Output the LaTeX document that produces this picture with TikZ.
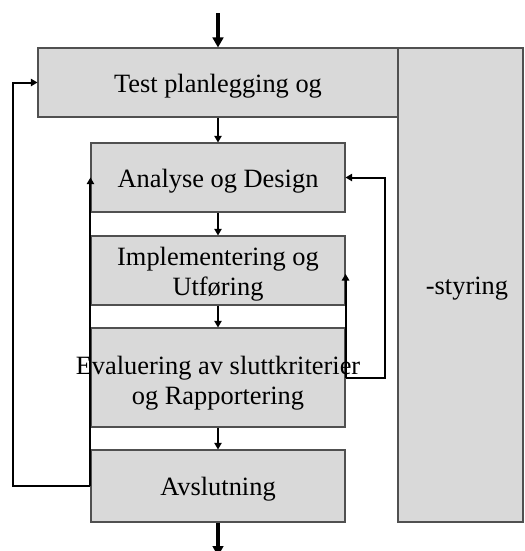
\documentclass[tikz,border=0pt]{standalone}
\usepackage{fontspec}
\setmainfont{Liberation Serif}
\usetikzlibrary{arrows.meta}
\definecolor{boxfill}{HTML}{D9D9D9}
\definecolor{boxline}{HTML}{505050}
\begin{document}
\begin{tikzpicture}[x=0.75pt,y=-0.75pt,
  box/.style={draw=boxline,fill=boxfill,line width=0.8pt,rectangle,inner sep=0pt},
  txt/.style={inner sep=0pt,font=\fontsize{19.8}{22.5}\selectfont,align=center,text=black,yshift=-2.6pt},
  bigarrow/.style={line width=2.4pt,-{Triangle[length=7.5pt,width=8pt]}},
  flow/.style={line width=1.1pt,-{Triangle[length=5pt,width=5.5pt]}},
  looparrow/.style={line width=1.5pt,-{Triangle[length=5pt,width=5.5pt]}}]
\useasboundingbox (0,0) rectangle (525,551);
% boxes
\node[box,minimum width=93.75pt,minimum height=355.5pt] (styr) at (460.5,285) {};
\node[box,minimum width=270pt,minimum height=51.75pt] (plan) at (218,82.5) {};
\node[box,minimum width=190.5pt,minimum height=51.75pt] (anal) at (218,177.5) {};
\node[box,minimum width=190.5pt,minimum height=51.75pt] (impl) at (218,270.5) {};
\node[box,minimum width=190.5pt,minimum height=74.25pt] (eval) at (218,377.5) {};
\node[box,minimum width=190.5pt,minimum height=54pt] (avsl) at (218,486) {};
% texts
\node[txt] (styrtxt) at (467,285) {-styring};
\node[txt] (plantxt) at (plan.center) {Test planlegging og};
\node[txt] (analtxt) at (anal.center) {Analyse og Design};
\node[txt] (impltxt) at (impl.center) {Implementering og\\Utføring};
\node[txt] (evaltxt) at (218,380) {Evaluering av sluttkriterier\\og Rapportering};
\node[txt] (avsltxt) at (avsl.center) {Avslutning};
% connectors
\coordinate (in) at (218,13);
\coordinate (out) at (218,556);
\draw[bigarrow] (in) -- (plan.north);
\draw[bigarrow] (avsl.south) -- (out);
\draw[flow] (plan.south) -- (anal.north);
\draw[flow] (anal.south) -- (impl.north);
\draw[flow] (impl.south) -- (eval.north);
\draw[flow] (eval.south) -- (avsl.north);
\draw[looparrow] (avsl.west) -- ++(-77,0) |- (plan.west);
\draw[looparrow] (avsl.west) -- (anal.west);
\draw[looparrow] (eval.east) -- ++(39,0) |- (anal.east);
\draw[looparrow] (eval.east) -- ([yshift=-2.5]impl.east);
\end{tikzpicture}
\end{document}
